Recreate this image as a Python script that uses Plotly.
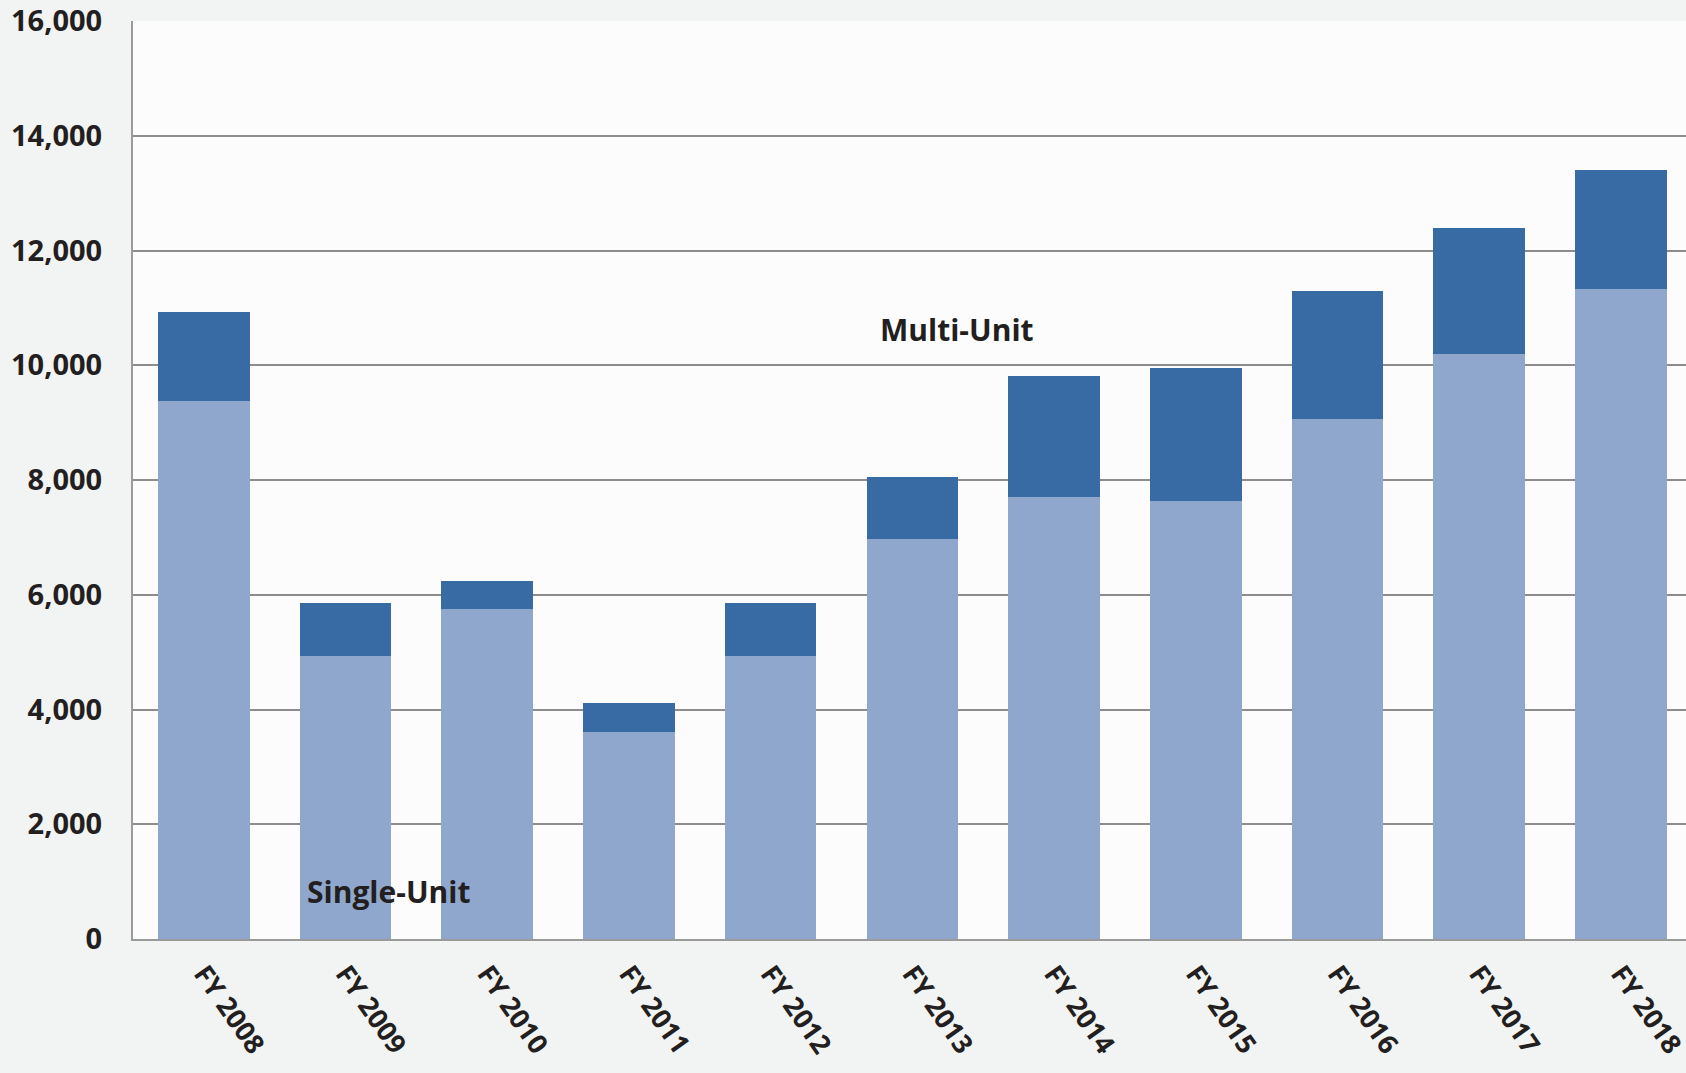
import plotly.graph_objects as go

categories = ["FY 2008", "FY 2009", "FY 2010", "FY 2011", "FY 2012", "FY 2013",
              "FY 2014", "FY 2015", "FY 2016", "FY 2017", "FY 2018"]
single_unit = [9370, 4930, 5750, 3600, 4930, 6970, 7700, 7630, 9070, 10190, 11330]
multi_unit = [1560, 920, 490, 520, 920, 1090, 2120, 2320, 2230, 2210, 2070]
y_ticks = [0, 2000, 4000, 6000, 8000, 10000, 12000, 14000, 16000]

font_family = "Open Sans"
text_color = "#231F20"

fig = go.Figure()
fig.add_trace(go.Bar(x=categories, y=single_unit, name="Single-Unit",
                     marker=dict(color="#8FA7CC", line=dict(width=0)), width=0.646))
fig.add_trace(go.Bar(x=categories, y=multi_unit, name="Multi-Unit",
                     marker=dict(color="#386BA3", line=dict(width=0)), width=0.646))

fig.update_layout(
    barmode="stack",
    width=1686, height=1073,
    margin=dict(l=133, r=0, t=21, b=134),
    paper_bgcolor="#F2F3F3",
    plot_bgcolor="#FCFCFC",
    showlegend=False,
    font=dict(family=font_family, color=text_color),
    xaxis=dict(
        range=[-0.5, 10.46],
        tickangle=55,
        tickfont=dict(size=27, family=font_family, color=text_color, weight="bold"),
        showgrid=False,
        showline=True, linecolor="#9A9A9A", linewidth=2,
        ticks="", ticklabelstandoff=6, automargin=False,
    ),
    yaxis=dict(
        range=[0, 16000],
        tickvals=y_ticks,
        tickformat=",d",
        tickfont=dict(size=29, family=font_family, color=text_color, weight="bold"),
        showgrid=True, gridcolor="#8C8C8C", gridwidth=2,
        showline=True, linecolor="#9A9A9A", linewidth=2,
        zeroline=False,
        ticks="", ticklabelstandoff=23, automargin=False,
    ),
    annotations=[
        dict(x=5.315, y=10620, xref="x", yref="y", text="<b>Multi-Unit</b>",
             showarrow=False, font=dict(size=30, family=font_family, color=text_color)),
        dict(x=1.30, y=836, xref="x", yref="y", text="<b>Single-Unit</b>",
             showarrow=False, font=dict(size=30, family=font_family, color=text_color)),
    ],
)

fig.write_html(
    "out.html",
    config={"displayModeBar": False},
    post_script="document.body.style.margin='0';document.body.style.overflow='hidden';",
)
